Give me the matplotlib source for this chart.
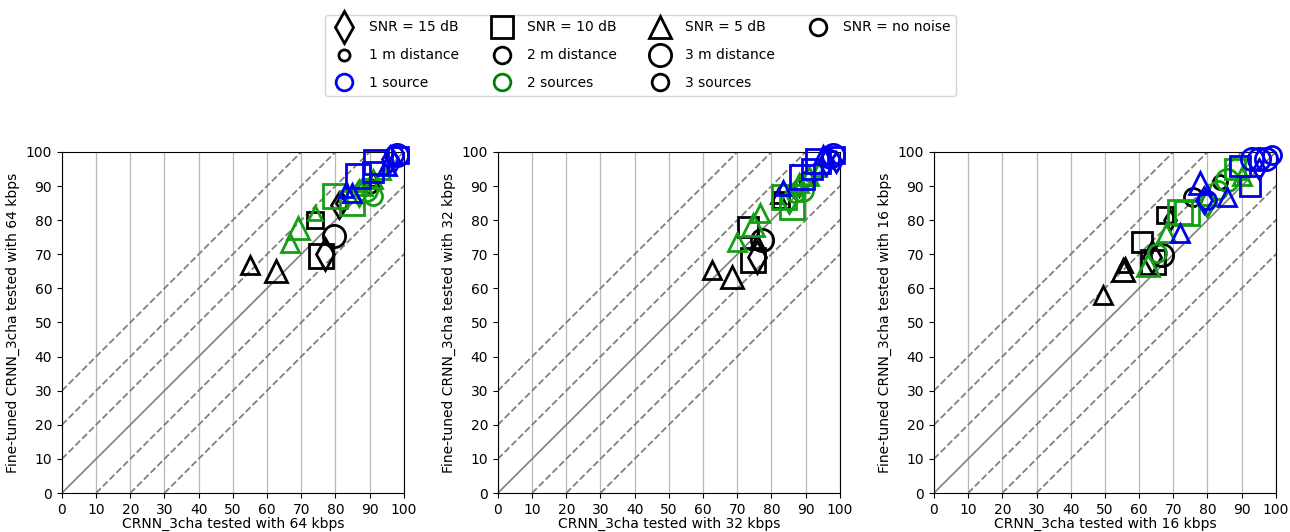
import matplotlib

matplotlib.use("Agg")
import matplotlib.pyplot as plt  # noqa: E402
from matplotlib.lines import Line2D  # noqa: E402

# Bitrates shown in the three panels
RATES = [64, 32, 16]

# Each point: x (CRNN_3cha), y (fine-tuned), SNR in dB (0 = no noise), distance in m, number of sources
x_64 = [55, 62.5, 74, 75.7, 77, 79.5, 82, 81, 91, 90,
        66.7, 69, 74, 80, 85, 91, 89, 88, 91, 94, 87,
        86.5, 83, 85, 92, 91, 96, 97, 98, 95, 99, 97]
y_64 = [67, 65, 80, 69.5, 70, 75.4, 85, 84.5, 92, 90,
        73.3, 77.7, 82, 87, 85, 87, 89, 90, 92, 94, 88,
        93, 89, 88, 97, 94, 98, 99, 99, 96, 99, 97]
snr_64 = [5, 5, 10, 10, 15, 0, 15, 15, 5, 0,
          5, 5, 5, 10, 10, 0, 0, 5, 5, 5, 15,
          10, 5, 5, 10, 10, 15, 0, 0, 5, 10, 15]
dist_64 = [2, 3, 1, 3, 3, 3, 1, 2, 1, 1,
           2, 3, 1, 3, 3, 2, 3, 2, 2, 1, 2,
           3, 1, 2, 3, 2, 2, 2, 3, 2, 1, 1]
src_64 = [3] * 10 + [2] * 11 + [1] * 11

x_32 = [62.6, 68.4, 73.1, 74.6, 75.7, 77.2, 75.7, 82.7, 82, 88, 90,
        69.9, 74.6, 76.6, 83.6, 86, 87, 89, 88, 91, 94, 85,
        88.9, 83.3, 93.6, 92, 96, 97, 98, 95, 99, 99]
y_32 = [65.4, 63.3, 78, 68.3, 69.2, 74.2, 73.6, 86, 87, 90, 92,
        73.6, 78.6, 82, 86.7, 84, 88, 89, 91, 93, 95, 86,
        92.8, 89.4, 97.5, 95, 97, 98, 99, 99, 97, 99]
snr_32 = [5, 5, 10, 10, 15, 0, 5, 10, 5, 15, 0,
          5, 5, 5, 10, 10, 0, 0, 5, 5, 5, 15,
          10, 5, 10, 10, 15, 0, 0, 5, 15, 10]
dist_32 = [2, 3, 2, 3, 3, 3, 1, 1, 1, 1, 1,
           2, 3, 2, 3, 3, 2, 3, 2, 2, 1, 2,
           3, 1, 3, 2, 2, 2, 3, 2, 1, 1]
src_32 = [3] * 11 + [2] * 11 + [1] * 10

x_16 = [49.4, 55.3, 55.8, 61, 64, 66.7, 63.7, 67.5, 69, 75.7, 83.6, 80,
        62.6, 65.2, 68, 72, 74, 79.8, 80, 85.7, 83, 90, 88,
        71.9, 77.8, 85.7, 79, 80, 89.5, 92.5, 93, 95, 97, 99, 95]
y_16 = [58, 65.4, 66.9, 73.6, 67.7, 69.8, 69.2, 81.5, 80, 86.8, 91.2, 85,
        66.9, 70.4, 76.2, 82.5, 82, 85, 87, 91.8, 89, 93, 95,
        76.2, 91, 86.8, 86, 86, 96, 90, 98, 98, 98, 99, 95]
snr_16 = [5, 5, 5, 10, 10, 0, 15, 10, 15, 0, 0, 15,
          5, 0, 5, 10, 10, 15, 5, 0, 0, 5, 10,
          5, 5, 5, 15, 0, 10, 10, 0, 0, 0, 0, 15]
dist_16 = [2, 3, 1, 2, 3, 3, 3, 1, 1, 2, 1, 2,
           3, 2, 2, 3, 3, 2, 2, 3, 2, 2, 2,
           2, 3, 2, 2, 2, 2, 2, 3, 3, 3, 2, 1]
src_16 = [3] * 12 + [2] * 11 + [1] * 12

PANELS = [
    (x_64, y_64, snr_64, dist_64, src_64),
    (x_32, y_32, snr_32, dist_32, src_32),
    (x_16, y_16, snr_16, dist_16, src_16),
]

MARKER = {15: "d", 10: "s", 5: "^", 0: "o"}
SIZE = {1: 10, 2: 13, 3: 16}
COLOR = {1: "#0000ee", 2: "#12a012", 3: "black"}

fig = plt.figure(figsize=(12.9, 5.32), dpi=100)
lefts = [0.048, 0.386, 0.724]
for k, (rate, (xs, ys, snrs, dists, srcs)) in enumerate(zip(RATES, PANELS)):
    ax = fig.add_axes([lefts[k], 0.0733, 0.265, 0.641])
    ax.grid(axis="x", color="#b8b8b8", lw=0.9)
    ax.set_axisbelow(True)
    ax.plot([0, 100], [0, 100], color="gray", lw=1.2)
    for d in (10, 20, 30):
        ax.plot([0, 100], [d, 100 + d], color="gray", lw=1.3, ls="--")
        ax.plot([d, 100 + d], [0, 100], color="gray", lw=1.3, ls="--")
    for x, y, s, dd, n in zip(xs, ys, snrs, dists, srcs):
        ms = SIZE[dd] * (1.1 if s == 10 else 1.0)
        ax.plot(x, y, marker=MARKER[s], ms=ms, mfc="none", mec=COLOR[n],
                mew=2, ls="none", clip_on=False, zorder=3)
    ax.set_xlim(0, 100)
    ax.set_ylim(0, 100)
    ax.set_xticks(range(0, 101, 10))
    ax.set_yticks(range(0, 101, 10))
    ax.set_xlabel(f"CRNN_3cha tested with {rate} kbps", labelpad=0)
    ax.set_ylabel(f"Fine-tuned CRNN_3cha tested with {rate} kbps")


def h(marker, ms, color="black"):
    return Line2D([], [], marker=marker, ms=ms, mfc="none", mec=color, mew=2, ls="none")


blank = Line2D([], [], ls="none")
handles = [h("d", 16), h("o", 8), h("o", 12, "blue"),
           h("s", 16), h("o", 12), h("o", 12, "green"),
           h("^", 16), h("o", 16), h("o", 12),
           h("o", 12), blank, blank]
labels = ["SNR = 15 dB", "1 m distance", "1 source",
          "SNR = 10 dB", "2 m distance", "2 sources",
          "SNR = 5 dB", "3 m distance", "3 sources",
          "SNR = no noise", "", ""]
fig.legend(handles, labels, loc="upper center", bbox_to_anchor=(0.4965, 0.985), ncol=4,
           fontsize=10, labelspacing=1.0, columnspacing=2.1, handletextpad=0.8)

fig.savefig("out.png", dpi=100)
